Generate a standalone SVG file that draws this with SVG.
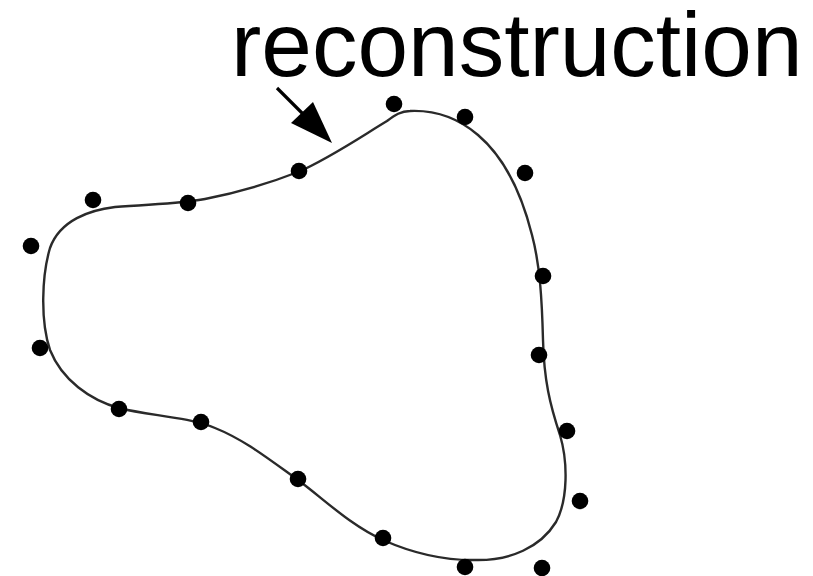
<svg xmlns="http://www.w3.org/2000/svg" width="813" height="576" viewBox="0 0 813 576">
  <style>
    .curve { fill: none; stroke: #2a2a2a; stroke-width: 2.4; stroke-linejoin: round; }
    .dot { fill: #000; }
    .label { font-family: "Liberation Sans", Arial, sans-serif; font-size: 91px; fill: #000; }
    .pointer { stroke: #000; stroke-width: 3.2; fill: none; }
  </style>

  <rect width="813" height="576" fill="#fff"/>

  <!-- label -->
  <g id="label">
    <text class="label" x="231" y="76">reconstruction</text>
  </g>

  <!-- reconstructed closed contour -->
  <g id="contour">
    <path class="curve" d="M 410,111
      C 434,110 457,117 478,135
      C 505,158 522,195 532,235
      C 540,265 542,300 543,340
      C 544,380 550,405 560,435
      C 568,462 568,500 556,522
      C 540,548 510,560 478,560
      C 440,561 410,552 383,540
      C 350,525 325,500 298,480
      C 270,460 245,440 215,428
      C 185,416 150,416 119,408
      C 90,400 62,380 50,350
      C 40,320 42,275 50,248
      C 60,220 90,210 115,207
      C 150,204 180,204 205,199
      C 245,191 270,183 298,172
      C 330,158 362,136 387,121
      C 395,115 401,111 410,111 Z"/>
  </g>

  <!-- sample points -->
  <g id="samples">
    <circle class="dot" cx="394" cy="104" r="8.3"/>
    <circle class="dot" cx="465" cy="117" r="8.3"/>
    <circle class="dot" cx="525" cy="173" r="8.3"/>
    <circle class="dot" cx="543" cy="276" r="8.3"/>
    <circle class="dot" cx="539" cy="355" r="8.3"/>
    <circle class="dot" cx="567" cy="431" r="8.3"/>
    <circle class="dot" cx="580" cy="501" r="8.3"/>
    <circle class="dot" cx="542" cy="568" r="8.3"/>
    <circle class="dot" cx="465" cy="567" r="8.3"/>
    <circle class="dot" cx="383" cy="538" r="8.3"/>
    <circle class="dot" cx="298" cy="479" r="8.3"/>
    <circle class="dot" cx="201" cy="422" r="8.3"/>
    <circle class="dot" cx="119" cy="409" r="8.3"/>
    <circle class="dot" cx="40" cy="348" r="8.3"/>
    <circle class="dot" cx="31" cy="246" r="8.3"/>
    <circle class="dot" cx="93" cy="200" r="8.3"/>
    <circle class="dot" cx="188" cy="203" r="8.3"/>
    <circle class="dot" cx="299" cy="171" r="8.3"/>
  </g>

  <!-- pointer from label to contour -->
  <g id="connectors">
    <line class="pointer" x1="277" y1="88" x2="305" y2="116"/>
    <polygon points="332,143 291,123 313,102" fill="#000"/>
  </g>
</svg>
